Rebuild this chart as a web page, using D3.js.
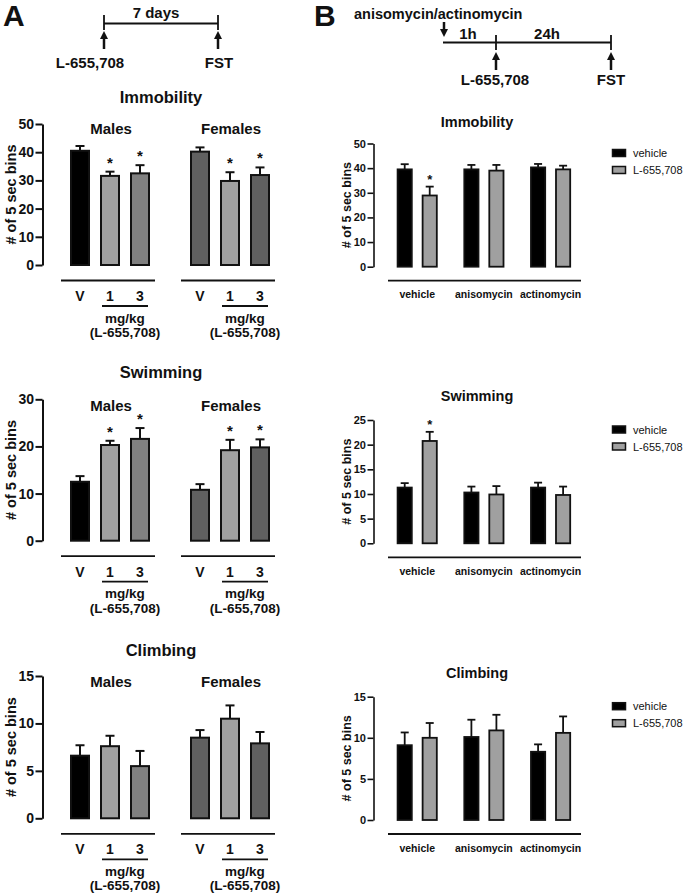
<!DOCTYPE html>
<html><head><meta charset="utf-8">
<script src="https://cdn.jsdelivr.net/npm/d3@7"></script>
<style>
body{margin:0;background:#fff}
svg{display:block}
text{font-family:"Liberation Sans",Arial,sans-serif;fill:#111}
</style>
</head><body><svg id="c" width="685" height="893"></svg>
<script>
// ---------- Panel A data (Males / Females, V, 1, 3 mg/kg) ----------
const sexes = ["Males", "Females"];
const doses = ["V", "1", "3"];
const immobA = [40.5, 31.6, 32.5, 40.2, 29.8, 31.9];
const immobAErr = [1.7, 1.5, 2.9, 1.5, 3.1, 2.7];
const immobAStar = [false, true, true, false, true, true];
const swimA = [12.5, 20.3, 21.6, 10.8, 19.2, 19.8];
const swimAErr = [1.2, 0.9, 2.3, 1.2, 2.2, 1.7];
const swimAStar = [false, true, true, false, true, true];
const climbA = [6.6, 7.6, 5.5, 8.5, 10.5, 7.9];
const climbAErr = [1.1, 1.1, 1.6, 0.8, 1.4, 1.2];
const climbAStar = [false, false, false, false, false, false];
const fillsA = ["#000000", "#a0a0a0", "#808080", "#606060", "#a0a0a0", "#606060"];
const ticksImmobA = [0, 10, 20, 30, 40, 50];
const ticksSwimA = [0, 10, 20, 30];
const ticksClimbA = [0, 5, 10, 15];

// ---------- Panel B data (pretreatment x treatment) ----------
const pretreat = ["vehicle", "anisomycin", "actinomycin"];
const treatments = ["vehicle", "L-655,708"];
const fillsB = ["#000000", "#a0a0a0"];
const immobBVeh = [39.5, 39.5, 40.3];
const immobBVehErr = [2.1, 1.8, 1.4];
const immobBL = [28.9, 39.0, 39.5];
const immobBLErr = [3.6, 2.3, 1.5];
const immobBStar = [true, false, false];
const swimBVeh = [11.3, 10.3, 11.3];
const swimBVehErr = [0.9, 1.2, 1.0];
const swimBL = [20.75, 9.9, 9.8];
const swimBLErr = [1.85, 1.7, 1.7];
const swimBStar = [true, false, false];
const climbBVeh = [9.1, 10.1, 8.3];
const climbBVehErr = [1.55, 2.1, 0.9];
const climbBL = [10.0, 10.9, 10.6];
const climbBLErr = [1.8, 1.9, 2.0];
const climbBStar = [false, false, false];
const ticksImmobB = [0, 10, 20, 30, 40, 50];
const ticksSwimB = [0, 5, 10, 15, 20, 25];
const ticksClimbB = [0, 5, 10, 15];

const svg = d3.select("#c");
const INK = "#111";

function txt(g, x, y, s, size, weight, anchor, baseline) {
  return g.append("text").attr("x", x).attr("y", y).text(s)
    .attr("font-size", size).attr("font-weight", weight || "bold")
    .attr("text-anchor", anchor || "middle")
    .attr("dominant-baseline", baseline || "central");
}

// ---------- Panel letters ----------
txt(svg, 3, 26, "A", 30, "bold", "start", "auto");
txt(svg, 314, 26, "B", 30, "bold", "start", "auto");

// ---------- Timelines ----------
function upArrow(x, yTip, yEnd) {
  svg.append("path").attr("d", `M${x},${yTip} L${x - 4},${yTip + 8} L${x + 4},${yTip + 8} Z`).attr("fill", INK);
  svg.append("line").attr("x1", x).attr("x2", x).attr("y1", yTip + 6).attr("y2", yEnd).attr("stroke", INK).attr("stroke-width", 2.5);
}
function downArrow(x, yStart, yTip) {
  svg.append("path").attr("d", `M${x},${yTip} L${x - 4},${yTip - 8} L${x + 4},${yTip - 8} Z`).attr("fill", INK);
  svg.append("line").attr("x1", x).attr("x2", x).attr("y1", yStart).attr("y2", yTip - 6).attr("stroke", INK).attr("stroke-width", 2.5);
}
// A timeline
svg.append("line").attr("x1", 104).attr("x2", 218).attr("y1", 23.5).attr("y2", 23.5).attr("stroke", INK).attr("stroke-width", 1.8);
[104, 218].forEach(x => svg.append("line").attr("x1", x).attr("x2", x).attr("y1", 15).attr("y2", 30).attr("stroke", INK).attr("stroke-width", 1.8));
upArrow(104, 31, 49);
upArrow(218, 31, 49);
txt(svg, 156, 12, "7 days", 15);
txt(svg, 90, 62, "L-655,708", 15);
txt(svg, 219, 62, "FST", 15);
// B timeline
txt(svg, 354, 14, "anisomycin/actinomycin", 14.5, "bold", "start");
downArrow(444, 22, 37);
svg.append("line").attr("x1", 443).attr("x2", 611).attr("y1", 42.5).attr("y2", 42.5).attr("stroke", INK).attr("stroke-width", 1.8);
[496, 611].forEach(x => svg.append("line").attr("x1", x).attr("x2", x).attr("y1", 35).attr("y2", 50).attr("stroke", INK).attr("stroke-width", 1.8));
upArrow(496, 52, 70);
upArrow(611, 52, 70);
txt(svg, 468, 33, "1h", 15);
txt(svg, 547, 33, "24h", 15);
txt(svg, 495, 79, "L-655,708", 15);
txt(svg, 611, 79, "FST", 15);

// ---------- Panel A builder ----------
const axisXA = 42.5;
const outerA = d3.scaleBand().domain(sexes).range([65, 275]).paddingInner(0.25).paddingOuter(0);
const innerA = d3.scaleBand().domain(doses).range([0, outerA.bandwidth()]).paddingInner(1 / 3).paddingOuter(1 / 6);

function panelA(o) {
  const g = svg.append("g");
  const y = d3.scaleLinear().domain([0, o.ticks[o.ticks.length - 1]]).range([o.y0, o.y1]);
  const ax = g.append("g").attr("transform", `translate(${axisXA},0)`)
    .call(d3.axisLeft(y).tickValues(o.ticks).tickSize(7).tickSizeOuter(0).tickPadding(1.5));
  ax.select(".domain").attr("stroke", INK).attr("stroke-width", 2);
  ax.selectAll(".tick line").attr("stroke", INK).attr("stroke-width", 2);
  ax.selectAll(".tick text").attr("font-size", 14).attr("font-weight", "bold").attr("fill", INK)
    .attr("font-family", '"Liberation Sans",Arial,sans-serif');
  const cy = (o.y0 + o.y1) / 2;
  txt(g, 16, cy, "# of 5 sec bins", 14.5, "bold", "middle", "auto").attr("transform", `rotate(-90,16,${cy})`);
  txt(g, 161, o.titleY, o.title, 16.5);
  const rows = o.vals.map((v, i) => ({ v, e: o.errs[i], s: o.stars[i], sex: sexes[Math.floor(i / 3)], dose: doses[i % 3], fill: fillsA[i] }));
  const cx = d => outerA(d.sex) + innerA(d.dose) + innerA.bandwidth() / 2;
  rows.forEach(d => {
    g.append("line").attr("x1", cx(d)).attr("x2", cx(d)).attr("y1", y(d.v)).attr("y2", y(d.v + d.e)).attr("stroke", INK).attr("stroke-width", 2);
    g.append("line").attr("x1", cx(d) - 4.5).attr("x2", cx(d) + 4.5).attr("y1", y(d.v + d.e)).attr("y2", y(d.v + d.e)).attr("stroke", INK).attr("stroke-width", 2);
    if (d.s) txt(g, cx(d), y(d.v + d.e) - 4, "*", 15, "bold", "middle", "auto");
  });
  g.selectAll("rect.bar").data(rows).join("rect").attr("class", "bar")
    .attr("x", d => outerA(d.sex) + innerA(d.dose) + 1)
    .attr("width", innerA.bandwidth() - 2)
    .attr("y", d => y(d.v)).attr("height", d => y(0) - y(d.v))
    .attr("fill", d => d.fill).attr("stroke", INK).attr("stroke-width", 2);
  sexes.forEach(s => {
    const gc = outerA(s) + outerA.bandwidth() / 2;
    txt(g, gc + 1, o.groupY, s, 15);
    g.append("line").attr("x1", gc - 49).attr("x2", gc + 45).attr("y1", o.y0 + 15.5).attr("y2", o.y0 + 15.5).attr("stroke", INK).attr("stroke-width", 1.8);
    doses.forEach(ds => txt(g, outerA(s) + innerA(ds) + innerA.bandwidth() / 2, o.y0 + 31, ds, 14));
    const c1 = outerA(s) + innerA("1") + innerA.bandwidth() / 2;
    const c3 = outerA(s) + innerA("3") + innerA.bandwidth() / 2;
    g.append("line").attr("x1", c1 - 8).attr("x2", c3 + 8).attr("y1", o.y0 + 41).attr("y2", o.y0 + 41).attr("stroke", INK).attr("stroke-width", 1.8);
    txt(g, (c1 + c3) / 2, o.y0 + 53, "mg/kg", 13.5);
    txt(g, (c1 + c3) / 2, o.y0 + 67.5, "(L-655,708)", 13.5);
  });
}

panelA({ y0: 265, y1: 124, ticks: ticksImmobA, title: "Immobility", titleY: 97, groupY: 128, vals: immobA, errs: immobAErr, stars: immobAStar });
panelA({ y0: 540.7, y1: 399.3, ticks: ticksSwimA, title: "Swimming", titleY: 372, groupY: 405, vals: swimA, errs: swimAErr, stars: swimAStar });
panelA({ y0: 818.3, y1: 676, ticks: ticksClimbA, title: "Climbing", titleY: 650, groupY: 681, vals: climbA, errs: climbAErr, stars: climbAStar });

// ---------- Panel B builder ----------
const axisXB = 373.5;
const outerB = d3.scaleBand().domain(pretreat).range([396.7, 571.1]).paddingInner(0.385).paddingOuter(0);
const innerB = d3.scaleBand().domain(treatments).range([0, outerB.bandwidth()]).paddingInner(0.36).paddingOuter(0);

function panelB(o) {
  const g = svg.append("g");
  const y = d3.scaleLinear().domain([0, o.ticks[o.ticks.length - 1]]).range([o.y0, o.y1]);
  const ax = g.append("g").attr("transform", `translate(${axisXB},0)`)
    .call(d3.axisLeft(y).tickValues(o.ticks).tickSize(6).tickSizeOuter(0).tickPadding(1.5));
  ax.select(".domain").attr("stroke", INK).attr("stroke-width", 1.6);
  ax.selectAll(".tick line").attr("stroke", INK).attr("stroke-width", 1.6);
  ax.selectAll(".tick text").attr("font-size", 11).attr("font-weight", "bold").attr("fill", INK)
    .attr("font-family", '"Liberation Sans",Arial,sans-serif');
  const cy = (o.y0 + o.y1) / 2;
  txt(g, 351.5, cy, "# of 5 sec bins", 12.5, "bold", "middle", "auto").attr("transform", `rotate(-90,351.5,${cy})`);
  txt(g, 477, o.titleY, o.title, 14.5);
  const rows = [];
  pretreat.forEach((p, i) => {
    rows.push({ p, t: treatments[0], v: o.veh[i], e: o.vehErr[i], s: false, fill: fillsB[0] });
    rows.push({ p, t: treatments[1], v: o.L[i], e: o.LErr[i], s: o.stars[i], fill: fillsB[1] });
  });
  const cx = d => outerB(d.p) + innerB(d.t) + innerB.bandwidth() / 2;
  rows.forEach(d => {
    g.append("line").attr("x1", cx(d)).attr("x2", cx(d)).attr("y1", y(d.v)).attr("y2", y(d.v + d.e)).attr("stroke", INK).attr("stroke-width", 1.8);
    g.append("line").attr("x1", cx(d) - 4).attr("x2", cx(d) + 4).attr("y1", y(d.v + d.e)).attr("y2", y(d.v + d.e)).attr("stroke", INK).attr("stroke-width", 1.8);
    if (d.s) txt(g, cx(d), y(d.v + d.e) - 3, "*", 13, "bold", "middle", "auto");
  });
  g.selectAll("rect.bar").data(rows).join("rect").attr("class", "bar")
    .attr("x", d => outerB(d.p) + innerB(d.t) + 0.9)
    .attr("width", innerB.bandwidth() - 1.8)
    .attr("y", d => y(d.v)).attr("height", d => y(0) - y(d.v))
    .attr("fill", d => d.fill).attr("stroke", INK).attr("stroke-width", 1.8);
  g.append("line").attr("x1", 388).attr("x2", 581).attr("y1", o.y0 + 14).attr("y2", o.y0 + 14).attr("stroke", INK).attr("stroke-width", 1.8);
  pretreat.forEach(p => txt(g, outerB(p) + outerB.bandwidth() / 2, o.y0 + 27.5, p, 10.5));
  treatments.forEach((t, i) => {
    const ly = o.y1 + 9.5 + i * 17;
    g.append("rect").attr("x", 612.5).attr("y", ly - 3.5).attr("width", 13).attr("height", 7)
      .attr("fill", fillsB[i]).attr("stroke", INK).attr("stroke-width", 1.5);
    txt(g, 633, ly, t, 11, "normal", "start");
  });
}

panelB({ y0: 266.7, y1: 143.5, ticks: ticksImmobB, title: "Immobility", titleY: 121.5, veh: immobBVeh, vehErr: immobBVehErr, L: immobBL, LErr: immobBLErr, stars: immobBStar });
panelB({ y0: 543.3, y1: 420, ticks: ticksSwimB, title: "Swimming", titleY: 396, veh: swimBVeh, vehErr: swimBVehErr, L: swimBL, LErr: swimBLErr, stars: swimBStar });
panelB({ y0: 820, y1: 696.7, ticks: ticksClimbB, title: "Climbing", titleY: 672.5, veh: climbBVeh, vehErr: climbBVehErr, L: climbBL, LErr: climbBLErr, stars: climbBStar });
</script>
</body></html>
